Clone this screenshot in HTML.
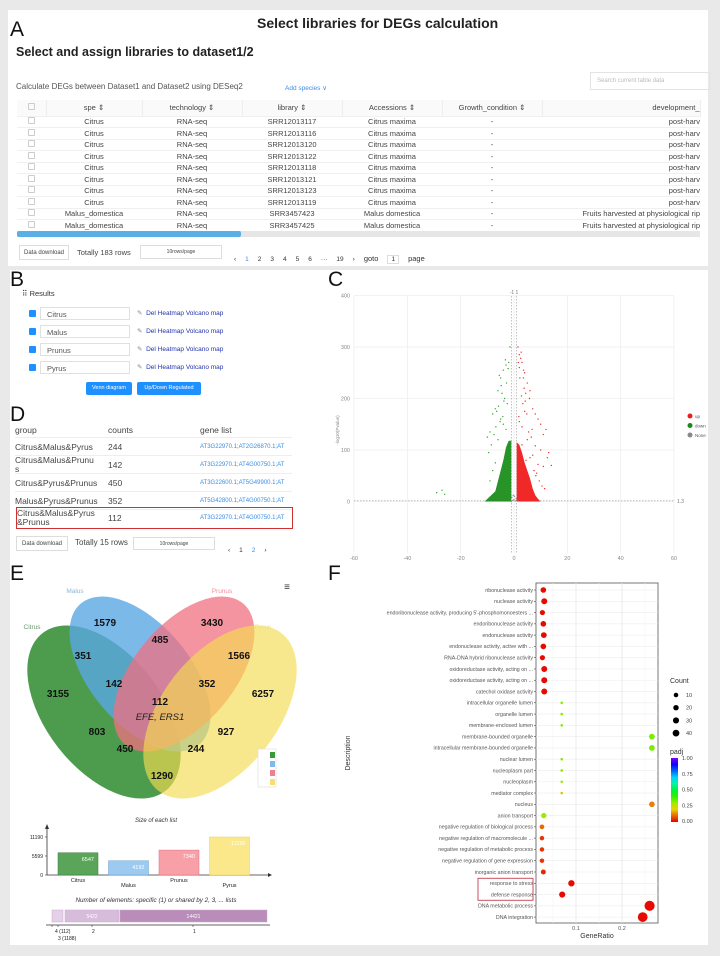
<!DOCTYPE html>
<html><head><meta charset="utf-8">
<style>
*{box-sizing:border-box;margin:0;padding:0}
body{width:720px;height:956px;background:#e9e9e9;font-family:"Liberation Sans",sans-serif;position:relative;overflow:hidden;color:#222}
.abs{position:absolute}
.panel{position:absolute;background:#fff}
.lbl{position:absolute;font-size:21px;color:#111}
table{border-collapse:collapse}
.tbl td,.tbl th{font-size:7.5px;font-weight:normal;color:#444;text-align:center;height:11.5px;border-bottom:1px solid #f0f0f0;white-space:nowrap;overflow:hidden}
.tbl th{height:16px;border-right:1px solid #eee;background:#fafafa}
.cb{display:inline-block;width:7px;height:7px;border:1px solid #ccc;border-radius:1px}
.pg span{display:inline-block;font-size:6.5px;margin-right:9px;color:#333}
.btn{position:absolute;border:1px solid #ddd;font-size:6px;color:#444;background:#fff;text-align:center}
.link{color:#2233aa;font-size:6.5px}
.drow{position:absolute;left:15px;width:277px;height:18px;border-bottom:1px solid #eee;font-size:8.5px;color:#444}
.drow div{position:absolute;line-height:9px}
.drow .g{color:#3a8ee6;font-size:6px;left:185px}
</style></head><body>

<!-- Panel A -->
<div class="panel" style="left:8px;top:10px;width:700px;height:256px"></div>
<div class="lbl" style="left:10px;top:18px">A</div>
<div class="abs" style="left:257px;top:15px;font-size:14px;font-weight:bold">Select libraries for DEGs calculation</div>
<div class="abs" style="left:16px;top:45px;font-size:12.5px;font-weight:bold">Select and assign libraries to dataset1/2</div>
<div class="abs" style="left:16px;top:82px;font-size:8px;color:#555">Calculate DEGs between Dataset1 and Dataset2 using DESeq2</div>
<div class="abs" style="left:285px;top:84px;font-size:6.5px;color:#3a8ee6">Add species ∨</div>
<div class="abs" style="left:590px;top:72px;width:120px;height:18px;border:1px solid #e3e3e3;font-size:6px;color:#bbb;padding:5px 6px">Search current table data</div>
<table class="tbl abs" style="left:17px;top:100px;width:683px;table-layout:fixed">
<colgroup><col style="width:29px"><col style="width:96px"><col style="width:100px"><col style="width:100px"><col style="width:100px"><col style="width:100px"><col style="width:158px"></colgroup>
<tr><th><span class="cb"></span></th><th>spe ⇕</th><th>technology ⇕</th><th>library ⇕</th><th>Accessions ⇕</th><th>Growth_condition ⇕</th><th style="text-align:right">development_</th></tr>
<tr><td><span class="cb"></span></td><td>Citrus</td><td>RNA-seq</td><td>SRR12013117</td><td>Citrus maxima</td><td>-</td><td style="text-align:right">post-harv</td></tr>
<tr><td><span class="cb"></span></td><td>Citrus</td><td>RNA-seq</td><td>SRR12013116</td><td>Citrus maxima</td><td>-</td><td style="text-align:right">post-harv</td></tr>
<tr><td><span class="cb"></span></td><td>Citrus</td><td>RNA-seq</td><td>SRR12013120</td><td>Citrus maxima</td><td>-</td><td style="text-align:right">post-harv</td></tr>
<tr><td><span class="cb"></span></td><td>Citrus</td><td>RNA-seq</td><td>SRR12013122</td><td>Citrus maxima</td><td>-</td><td style="text-align:right">post-harv</td></tr>
<tr><td><span class="cb"></span></td><td>Citrus</td><td>RNA-seq</td><td>SRR12013118</td><td>Citrus maxima</td><td>-</td><td style="text-align:right">post-harv</td></tr>
<tr><td><span class="cb"></span></td><td>Citrus</td><td>RNA-seq</td><td>SRR12013121</td><td>Citrus maxima</td><td>-</td><td style="text-align:right">post-harv</td></tr>
<tr><td><span class="cb"></span></td><td>Citrus</td><td>RNA-seq</td><td>SRR12013123</td><td>Citrus maxima</td><td>-</td><td style="text-align:right">post-harv</td></tr>
<tr><td><span class="cb"></span></td><td>Citrus</td><td>RNA-seq</td><td>SRR12013119</td><td>Citrus maxima</td><td>-</td><td style="text-align:right">post-harv</td></tr>
<tr><td><span class="cb"></span></td><td>Malus_domestica</td><td>RNA-seq</td><td>SRR3457423</td><td>Malus domestica</td><td>-</td><td style="text-align:right">Fruits harvested at physiological rip</td></tr>
<tr><td><span class="cb"></span></td><td>Malus_domestica</td><td>RNA-seq</td><td>SRR3457425</td><td>Malus domestica</td><td>-</td><td style="text-align:right">Fruits harvested at physiological rip</td></tr>
</table>
<div class="abs" style="left:17px;top:231px;width:683px;height:6px;background:#e6e6e6"><div style="width:224px;height:6px;background:#5ab0e6;border-radius:2px"></div></div>
<div class="btn" style="left:19px;top:245px;width:50px;height:15px;padding-top:4px">Data download</div>
<div class="abs" style="left:77px;top:248px;font-size:7.5px;color:#444">Totally 183 rows</div>
<div class="btn" style="left:140px;top:245px;width:82px;height:14px;padding-top:3px;font-size:5px">10rows/page</div>
<div class="abs pg" style="left:234px;top:248px"><span>‹</span><span style="color:#3a8ee6">1</span><span>2</span><span>3</span><span>4</span><span>5</span><span>6</span><span>···</span><span>19</span><span>›</span><span style="font-size:7.5px">goto</span><span style="border:1px solid #ddd;padding:0 3px">1</span><span style="font-size:7.5px">page</span></div>

<!-- Left panel B/D/E -->
<div class="panel" style="left:10px;top:270px;width:320px;height:675px"></div>
<div class="lbl" style="left:10px;top:268px">B</div>
<div class="abs" style="left:22px;top:289px;font-size:7.5px;color:#333">⠿ Results</div>
<div id="results"></div>
<div class="abs" style="left:86px;top:382px;width:46px;height:13px;background:#1e90ff;color:#fff;font-size:5.5px;text-align:center;padding-top:3px;border-radius:2px">Venn diagram</div>
<div class="abs" style="left:137px;top:382px;width:64px;height:13px;background:#1e90ff;color:#fff;font-size:5.5px;text-align:center;padding-top:3px;border-radius:2px">Up/Down Regulated</div>

<div class="lbl" style="left:10px;top:403px">D</div>
<div>
<div class="drow" style="top:424px;height:14px"><div style="left:0;top:2px">group</div><div style="left:93px;top:2px">counts</div><div style="left:185px;top:2px">gene list</div></div>
<div class="drow" style="top:438px"><div style="left:0;top:5px">Citrus&amp;Malus&amp;Pyrus</div><div style="left:93px;top:5px">244</div><div class="g" style="top:5px">AT3G22970.1;AT2G26870.1;AT</div></div>
<div class="drow" style="top:456px"><div style="left:0;top:0">Citrus&amp;Malus&amp;Prunu<br>s</div><div style="left:93px;top:5px">142</div><div class="g" style="top:5px">AT3G22970.1;AT4G00750.1;AT</div></div>
<div class="drow" style="top:474px"><div style="left:0;top:5px">Citrus&amp;Pyrus&amp;Prunus</div><div style="left:93px;top:5px">450</div><div class="g" style="top:5px">AT3G22600.1;AT5G49900.1;AT</div></div>
<div class="drow" style="top:492px"><div style="left:0;top:5px">Malus&amp;Pyrus&amp;Prunus</div><div style="left:93px;top:5px">352</div><div class="g" style="top:5px">AT5G42800.1;AT4G00750.1;AT</div></div>
<div class="drow" style="top:508px;height:21px;border:none"><div style="left:2px;top:1px">Citrus&amp;Malus&amp;Pyrus<br>&amp;Prunus</div><div style="left:93px;top:6px">112</div><div class="g" style="top:6px">AT3G22970.1;AT4G00750.1;AT</div></div>
</div>
<div class="abs" style="left:16px;top:507px;width:277px;height:22px;border:1.3px solid #d03030"></div>
<div class="btn" style="left:16px;top:536px;width:52px;height:15px;padding-top:4px">Data download</div>
<div class="abs" style="left:75px;top:538px;font-size:8px;color:#444">Totally 15 rows</div>
<div class="btn" style="left:133px;top:537px;width:82px;height:13px;padding-top:3px;font-size:5px">10rows/page</div>
<div class="abs pg" style="left:228px;top:539px"><span>‹</span><span>1</span><span style="color:#3a8ee6">2</span><span>›</span></div>

<div class="lbl" style="left:10px;top:562px">E</div>
<svg class="abs" style="left:0;top:560px" width="330" height="390">
 <g id="venn"></g>
 <g id="bars"></g>
</svg>

<!-- Panel C -->
<div class="panel" style="left:330px;top:270px;width:378px;height:290px"></div>
<div class="lbl" style="left:328px;top:268px">C</div>
<svg class="abs" style="left:330px;top:270px" width="378" height="290" id="volc"></svg>

<!-- Panel F -->
<div class="panel" style="left:330px;top:560px;width:378px;height:385px"></div>
<div class="lbl" style="left:328px;top:562px">F</div>
<svg class="abs" style="left:330px;top:560px" width="378" height="385" id="dot"></svg>

<script>
var NS='http://www.w3.org/2000/svg';
function mk(p,t,a,txt){var e=document.createElementNS(NS,t);for(var k in a)e.setAttribute(k,a[k]);if(txt!=null)e.textContent=txt;p.appendChild(e);return e;}

// ---- Results list (B)
var resultNames=['Citrus','Malus','Prunus','Pyrus'];
(function(){var c=document.getElementById('results');
resultNames.forEach(function(n,i){var y=307+i*18;
 var d=document.createElement('div');d.className='abs';d.style.cssText='left:29px;top:'+(y+3)+'px;width:7px;height:7px;background:#1e90ff;border-radius:1px';
 c.appendChild(d);
 var f=document.createElement('div');f.className='abs';f.style.cssText='left:40px;top:'+y+'px;width:90px;height:13px;border:1px solid #e0e0e0;font-size:7.5px;color:#555;padding:2px 6px';f.textContent=n;
 c.appendChild(f);
 var l=document.createElement('div');l.className='abs';l.style.cssText='left:137px;top:'+(y+2)+'px;font-size:6.5px;color:#888';l.innerHTML='✎ &nbsp;<span class="link">Del</span> <span class="link">Heatmap</span> <span class="link">Volcano map</span>';
 c.appendChild(l);
});})();

// ---- Volcano (C)
var xTicks=[-60,-40,-20,0,20,40,60];
var yTicks=[0,100,200,300,400];
var upCore=[[1,0],[10,0],[9,5],[8,12],[7,25],[6,45],[5,60],[4,75],[3,95],[2,110],[1,115]];
var downCore=[[-1,0],[-11,0],[-10,5],[-9,10],[-7,20],[-6,40],[-5,60],[-4,80],[-3,105],[-2,118],[-1,118]];
var upX=[1.5,2,2.5,3,2,4,3.5,5,6,2.8,4.2,7,8,9,10,12,11,6.5,5.5,3,2,1.8,4,5,3,8,10,13,7,6,4.5,2.5,3.3,9,11,12.5,14,8.5,7.5,3.8,2.2,5.8,4.8,6.8,1.6,2.7,3.6,4.4,9.5,10.5,8.2,11.5];
var upY=[300,285,278,270,260,250,240,230,215,205,195,180,170,160,150,140,130,125,135,145,155,165,175,120,110,108,100,95,90,85,80,75,190,72,68,85,70,55,60,220,240,200,170,140,270,290,255,210,40,30,50,25];
var downX=[-1.5,-2,-3,-4,-5,-5.5,-6,-4.5,-3.5,-2.5,-7,-6.5,-8,-5,-4,-3,-9,-7.5,-10,-6,-5.2,-4.2,-2.8,-8.5,-9.5,-27,-29,-26,-2.2,-3.8,-6.8,-4.8,-5.8,-3.2,-8,-9,-7];
var downY=[300,270,265,255,240,245,215,210,200,190,180,175,170,160,150,140,135,130,125,120,155,165,230,110,95,22,17,14,258,195,145,225,185,275,60,40,75];
var noneX=[-1,-0.5,0,0.5,1,-0.8,0.8,0.2,-0.3];
var noneY=[0,2,4,1,3,8,6,10,12];
(function(){var s=document.getElementById('volc');
 var X=function(v){return 24+(v+60)/120*320;}, Y=function(v){return 231.5-v*0.515;};
 xTicks.forEach(function(t){var l=mk(s,'line',{x1:X(t),x2:X(t),y1:26,y2:283,stroke:'#eee','stroke-width':0.8});
  
  var tx=mk(s,'text',{x:X(t),y:290,'font-size':5.5,fill:'#888','text-anchor':'middle'},t);
  });
 yTicks.forEach(function(t){var l=mk(s,'line',{x1:24,x2:344,y1:Y(t),y2:Y(t),stroke:'#eee','stroke-width':0.8});
  
  var tx=mk(s,'text',{x:20,y:Y(t)+2,'font-size':5.5,fill:'#888','text-anchor':'end'},t);
  });
 var yt=mk(s,'text',{x:9,y:160,'font-size':4.5,fill:'#888','text-anchor':'middle',transform:'rotate(-90 9 160)'},'-log10(Pvalue)');
 
 var xt=mk(s,'text',{x:184,y:298,'font-size':4.5,fill:'#888','text-anchor':'middle'},'log2FoldChange');
 
 [-1,1].forEach(function(v){var l=mk(s,'line',{x1:X(v),x2:X(v),y1:26,y2:283,stroke:'#999','stroke-width':0.6,'stroke-dasharray':'1.5,1.5'});
  });
 var h=mk(s,'line',{x1:24,x2:344,y1:Y(1.3),y2:Y(1.3),stroke:'#999','stroke-width':0.6,'stroke-dasharray':'1.5,1.5'});
 
 mk(s,'text',{x:347,y:Y(1.3)+2,'font-size':5,fill:'#777'},'1.3');
 mk(s,'text',{x:X(0),y:24,'font-size':5,fill:'#777','text-anchor':'middle'},'-1 1');
 function poly(d,col,nm){var p=mk(s,'polygon',{points:d.map(function(q){return X(q[0])+','+Y(q[1]);}).join(' '),fill:col,opacity:0.9});
  }
 poly(upCore,'#ee1111','up-dense-region');poly(downCore,'#118811','down-dense-region');
 function pts(xs,ys,col,nm){xs.forEach(function(v,i){var c=mk(s,'circle',{cx:X(v),cy:Y(ys[i]),r:0.7,fill:col});
  });}
 pts(upX,upY,'#e33','up-point');pts(downX,downY,'#3a3','down-point');pts(noneX,noneY,'#888','none-point');
 var lg=[['up','#e62020'],['down','#1a8a1a'],['None','#888']];
 lg.forEach(function(q,i){var c=mk(s,'circle',{cx:360,cy:146+i*9.5,r:2.5,fill:q[1]});
  
  var t=mk(s,'text',{x:365,y:148+i*9.5,'font-size':4.5,fill:'#555'},q[0]);
  });
})();

// ---- Dot plot (F)
var terms=['ribonuclease activity','nuclease activity','endoribonuclease activity, producing 5\'-phosphomonoesters ...','endoribonuclease activity','endonuclease activity','endonuclease activity, active with ...','RNA-DNA hybrid ribonuclease activity','oxidoreductase activity, acting on ...','oxidoreductase activity, acting on ...','catechol oxidase activity','intracellular organelle lumen','organelle lumen','membrane-enclosed lumen','membrane-bounded organelle','intracellular membrane-bounded organelle','nuclear lumen','nucleoplasm part','nucleoplasm','mediator complex','nucleus','anion transport','negative regulation of biological process','negative regulation of macromolecule ...','negative regulation of metabolic process','negative regulation of gene expression','inorganic anion transport','response to stress','defense response','DNA metabolic process','DNA integration'];
var geneRatio=[0.029,0.031,0.027,0.029,0.030,0.029,0.027,0.031,0.031,0.031,0.069,0.069,0.069,0.265,0.265,0.069,0.069,0.069,0.069,0.265,0.030,0.026,0.026,0.026,0.026,0.029,0.090,0.070,0.260,0.245];
var counts=[14,16,12,14,15,14,12,16,16,16,3,3,3,15,15,3,3,3,3,14,13,10,9,9,9,11,18,17,45,42];
var padj=[0.01,0.01,0.01,0.01,0.01,0.01,0.01,0.01,0.01,0.01,0.32,0.32,0.32,0.33,0.33,0.32,0.32,0.30,0.18,0.12,0.30,0.10,0.05,0.05,0.05,0.04,0.01,0.01,0.01,0.01];
var countLegend=[10,20,30,40];
var padjTicks=['1.00','0.75','0.50','0.25','0.00'];
var ratioTicks=[0.1,0.2];
function padjColor(v){var h=v*270;return 'hsl('+h+',100%,'+(45+5*v)+'%)';}
function rad(c){return Math.sqrt(c)*0.75;}
(function(){var s=document.getElementById('dot');
 var X=function(v){return 200+v*460;}, Y=function(i){return 30+i*11.28;};
 var px0=206,px1=328,py0=23,py1=363;
 mk(s,'rect',{x:px0,y:py0,width:px1-px0,height:py1-py0,fill:'#fff',stroke:'#555','stroke-width':0.8});
 [0.05,0.15,0.25].forEach(function(v){mk(s,'line',{x1:X(v),x2:X(v),y1:py0,y2:py1,stroke:'#f2f2f2','stroke-width':0.5});});
 ratioTicks.forEach(function(v){var g=mk(s,'line',{x1:X(v),x2:X(v),y1:py0,y2:py1,stroke:'#e6e6e6','stroke-width':0.8});
  
  var t=mk(s,'text',{x:X(v),y:py1+7,'font-size':5.5,fill:'#555','text-anchor':'middle'},v);
  });
 terms.forEach(function(tm,i){var y=Y(i);
  mk(s,'line',{x1:px0,x2:px1,y1:y,y2:y,stroke:'#ececec','stroke-width':0.6});
  mk(s,'line',{x1:px0-2,x2:px0,y1:y,y2:y,stroke:'#444','stroke-width':0.6});
  var t=mk(s,'text',{x:px0-3,y:y+1.8,'font-size':5.3,fill:'#555','text-anchor':'end'},tm);
  
  var c=mk(s,'circle',{cx:X(geneRatio[i]),cy:y,r:rad(counts[i]),fill:padjColor(padj[i])});
  });
 var b=mk(s,'rect',{x:148,y:Y(26)-5,width:55,height:22,fill:'none',stroke:'#c04050','stroke-width':0.9});
 
 var xt=mk(s,'text',{x:267,y:378,'font-size':7,fill:'#333','text-anchor':'middle'},'GeneRatio');
 
 var yt=mk(s,'text',{x:20,y:193,'font-size':7,fill:'#333','text-anchor':'middle',transform:'rotate(-90 20 193)'},'Description');
 
 mk(s,'text',{x:340,y:123,'font-size':7,fill:'#333'},'Count');
 countLegend.forEach(function(c,i){var cc=mk(s,'circle',{cx:346,cy:135+i*12.7,r:1.2+Math.sqrt(c)*0.34,fill:'#000'});
  
  var t=mk(s,'text',{x:356,y:137+i*12.7,'font-size':5.5,fill:'#444'},c);
  });
 mk(s,'text',{x:340,y:194,'font-size':7,fill:'#333'},'padj');
 var df=mk(s,'defs',{});var lgd=mk(df,'linearGradient',{id:'pg',x1:0,y1:1,x2:0,y2:0});
 for(var k=0;k<=10;k++){mk(lgd,'stop',{offset:k/10,'stop-color':padjColor(k/10)});}
 var cb=mk(s,'rect',{x:341,y:198,width:7,height:64,fill:'url(#pg)'});
 
 padjTicks.forEach(function(t,i){var tt=mk(s,'text',{x:352,y:200+i*15.8,'font-size':5.5,fill:'#444'},t);
  });
})();

// ---- Venn (E)
var setNames=['Citrus','Malus','Prunus','Pyrus'];
var regionCounts=['1579','3430','485','351','1566','142','352','3155','6257','112','803','927','450','244','1290'];
(function(){var g=document.getElementById('venn');
 var ell=[[104,152,100,58,52,'#2e8b2e',0.85],[140,114,92,50,50,'#5aa8e4',0.8],[184,114,92,50,-50,'#f07080',0.75],[220,152,100,58,-52,'#f4dc50',0.65]];
 ell.forEach(function(e,i){var el=mk(g,'ellipse',{cx:e[0],cy:e[1],rx:e[2],ry:e[3],fill:e[5],'fill-opacity':e[6],transform:'rotate('+e[4]+' '+e[0]+' '+e[1]+')'});
  });
 var pos=[[105,66],[212,66],[160,83],[83,99],[239,99],[114,127],[207,127],[58,137],[263,137],[160,145],[97,175],[226,175],[125,192],[196,192],[162,219]];
 regionCounts.forEach(function(c,i){var t=mk(g,'text',{x:pos[i][0],y:pos[i][1],'font-size':10,'font-weight':'bold',fill:'#111','text-anchor':'middle'},c);
  });
 var ef=mk(g,'text',{x:160,y:160,'font-size':9.5,'font-style':'italic',fill:'#222','text-anchor':'middle'},'EFE, ERS1');
 
 var lp=[[75,33,'#88b8d8','Malus'],[222,33,'#f090a0','Prunus'],[32,69,'#6a9a6a','Citrus'],[263,69,'#f0e080','Pyrus']];
 lp.forEach(function(l){var t=mk(g,'text',{x:l[0],y:l[1],'font-size':6.5,fill:l[2],'text-anchor':'middle'},l[3]);
  });
 var m=mk(g,'text',{x:287,y:30,'font-size':10,fill:'#333','text-anchor':'middle'},'≡');
 
 mk(g,'rect',{x:258,y:189,width:18,height:38,fill:'#fff',stroke:'#ddd','stroke-width':0.6});
 ['#3a9a3a','#80b8e8','#f08090','#f4e070'].forEach(function(c,i){var r=mk(g,'rect',{x:270,y:192+i*9,width:5,height:6,fill:c});
  });
})();

// ---- Bar chart (E lower)
var listNames=['Citrus','Malus','Prunus','Pyrus'];
var listSizes=[6547,4192,7340,11190];
var sizeTicks=[0,5599,11190];
var sharedCounts=[112,1188,5422,14421];
var sharedLabels=['4 (112)','3 (1188)','2','1'];
(function(){var g=document.getElementById('bars');
 var oy=-560, base=875+oy, Y=function(v){return base-v/11190*38;};
 var cols=['#5aa55a','#9ccaf0','#f8a0a8','#fbe88a'],strokes=['#3a7a3a','#6aa0d0','#e07080','#e8d060'];
 mk(g,'text',{x:156,y:822+oy,'font-size':6,'font-style':'italic',fill:'#333','text-anchor':'middle'},'Size of each list');
 mk(g,'line',{x1:47,x2:268,y1:base,y2:base,stroke:'#333','stroke-width':0.8});
 mk(g,'polygon',{points:'268,'+(base-2)+' 272,'+base+' 268,'+(base+2),fill:'#333'});
 mk(g,'line',{x1:47,x2:47,y1:base,y2:826+oy,stroke:'#333','stroke-width':0.8});
 mk(g,'polygon',{points:'45,'+(829+oy)+' 47,'+(824+oy)+' 49,'+(829+oy),fill:'#333'});
 sizeTicks.forEach(function(t){mk(g,'line',{x1:45,x2:47,y1:Y(t),y2:Y(t),stroke:'#333','stroke-width':0.6});
  var tx=mk(g,'text',{x:43,y:Y(t)+2,'font-size':5,fill:'#222','text-anchor':'end'},t);
  });
 listSizes.forEach(function(v,i){var x=58+i*50.5;
  var r=mk(g,'rect',{x:x,y:Y(v),width:40,height:base-Y(v),fill:cols[i],stroke:strokes[i],'stroke-width':0.5});
  
  var vt=mk(g,'text',{x:x+36,y:Y(v)+8,'font-size':5.5,fill:'#fff','text-anchor':'end'},v);
  
  var lt=mk(g,'text',{x:x+20,y:(i%2?887:882)+oy,'font-size':5.5,fill:'#222','text-anchor':'middle'},listNames[i]);
  });
 mk(g,'text',{x:156,y:902+oy,'font-size':6.3,'font-style':'italic',fill:'#333','text-anchor':'middle'},'Number of elements: specific (1) or shared by 2, 3, ... lists');
 var sw=[11,54,147];var xs=[52,65,120];
 [[0,'#e4d0e8',''],[1,'#d8bcdc','5422'],[2,'#b98cba','14421']].forEach(function(q){var i=q[0];
  var r=mk(g,'rect',{x:xs[i],y:910+oy,width:sw[i],height:12,fill:q[1],stroke:'#caaacc','stroke-width':0.5});
  
  if(q[2])mk(g,'text',{x:xs[i]+sw[i]/2,y:918+oy,'font-size':5,fill:'#fff','text-anchor':'middle'},q[2]);});
 mk(g,'line',{x1:46,x2:270,y1:925+oy,y2:925+oy,stroke:'#333','stroke-width':0.8});
 var lx=[[55,933,'4 (112)'],[58,940,'3 (1188)'],[92,933,'2'],[193,933,'1']];
 lx.forEach(function(l,i){mk(g,'line',{x1:[52,58,92,193][i],x2:[52,58,92,193][i],y1:925+oy,y2:927+oy,stroke:'#333','stroke-width':0.6});
  var t=mk(g,'text',{x:l[0],y:l[1]+oy,'font-size':5,fill:'#222'},sharedLabels[i]);
  });
})();
</script>
</body></html>
